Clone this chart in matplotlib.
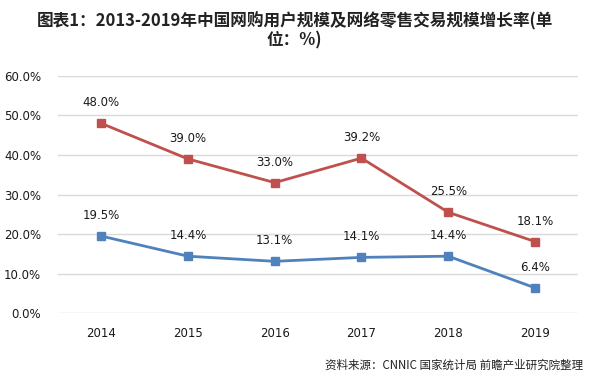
import matplotlib.pyplot as plt
from matplotlib.ticker import FuncFormatter

plt.rcParams['font.family'] = ['Noto Sans CJK SC', 'DejaVu Sans']

years = ["2014", "2015", "2016", "2017", "2018", "2019"]
retail_growth = [48.0, 39.0, 33.0, 39.2, 25.5, 18.1]
user_growth = [19.5, 14.4, 13.1, 14.1, 14.4, 6.4]

red = "#C0504D"
blue = "#4F81BD"

fig = plt.figure(figsize=(5.89, 3.89), dpi=100)
ax = fig.add_axes([0.098, 0.195, 0.884, 0.61])

x = list(range(len(years)))
ax.plot(x, retail_growth, color=red, lw=2, marker="s", ms=6, zorder=3)
ax.plot(x, user_growth, color=blue, lw=2, marker="s", ms=6, zorder=3)

for xi, v in zip(x, retail_growth):
    ax.annotate(f"{v:.1f}%", (xi, v), xytext=(0, 10), textcoords="offset points",
                ha="center", va="bottom", fontsize=8.5, family="DejaVu Sans", color="#1a1a1a")
for xi, v in zip(x, user_growth):
    ax.annotate(f"{v:.1f}%", (xi, v), xytext=(0, 10), textcoords="offset points",
                ha="center", va="bottom", fontsize=8.5, family="DejaVu Sans", color="#1a1a1a")

ax.set_xlim(-0.5, len(years) - 0.5)
ax.set_ylim(0, 60)
ax.set_yticks(range(0, 61, 10))
ax.yaxis.set_major_formatter(FuncFormatter(lambda v, p: f"{v:.1f}%"))
ax.set_xticks(x)
ax.set_xticklabels(years)
ax.grid(axis="y", color="#D9D9D9", lw=1)
ax.set_axisbelow(True)
for s in ax.spines.values():
    s.set_visible(False)
ax.tick_params(length=0, labelsize=8.5, colors="#1a1a1a", pad=12)
ax.tick_params(axis="x", pad=10)
for lbl in ax.get_xticklabels() + ax.get_yticklabels():
    lbl.set_family("DejaVu Sans")

fig.text(0.5, 0.945, "图表1：2013-2019年中国网购用户规模及网络零售交易规模增长率(单",
         ha="center", va="center", fontsize=12, fontweight="bold", color="#222222")
fig.text(0.5, 0.897, "位：%)", ha="center", va="center", fontsize=12,
         fontweight="bold", color="#222222")
fig.text(0.99, 0.062, "资料来源：CNNIC 国家统计局 前瞻产业研究院整理",
         ha="right", va="center", fontsize=8.3, color="#222222")

fig.savefig("out.png", dpi=100)
